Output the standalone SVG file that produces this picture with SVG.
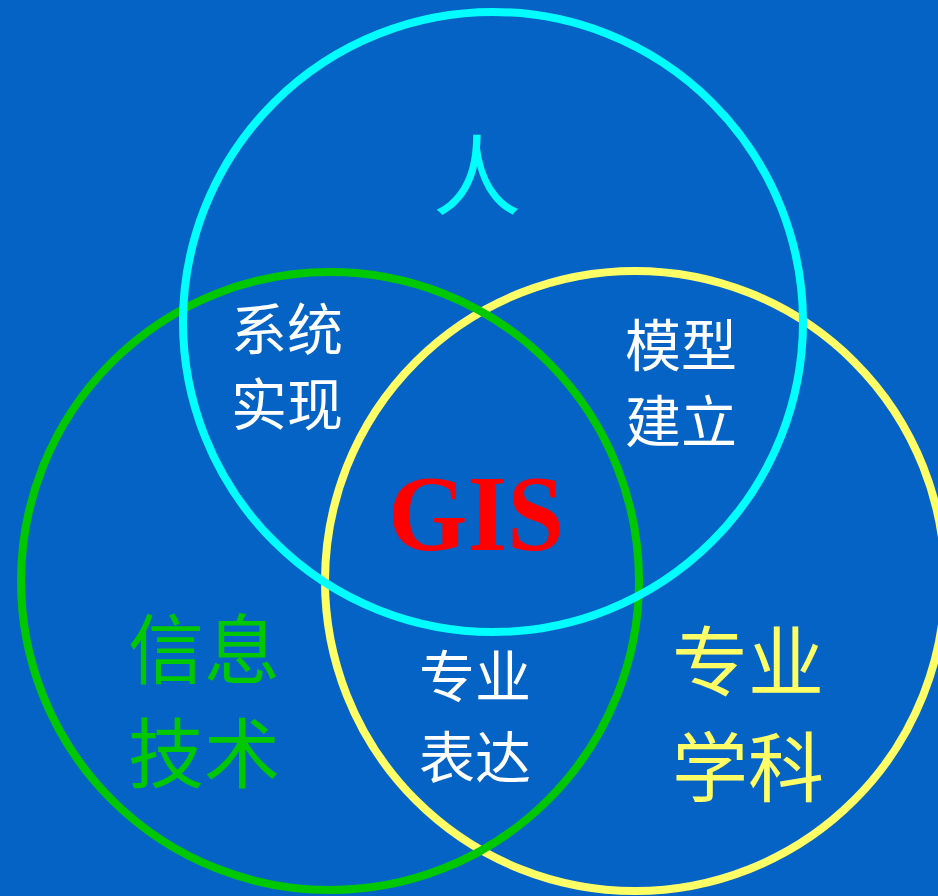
<svg xmlns="http://www.w3.org/2000/svg" width="938" height="896" viewBox="0 0 938 896">
<style>
.ring{fill:none;stroke-width:8}
.cjk{font-family:"Noto Sans CJK SC","Noto Sans CJK JP",sans-serif;text-anchor:middle}
.lbl{fill:#FFFFFF;font-size:56px}
.big{font-size:76px}
</style>
<rect width="938" height="896" fill="#0563C6"/>
<g id="circles">
<circle id="c-subject" class="ring" cx="635" cy="581" r="310" stroke="#FFFF66"/>
<circle id="c-tech" class="ring" cx="330" cy="581" r="309" stroke="#00C800"/>
<circle id="c-person" class="ring" cx="493" cy="322" r="310" stroke="#00FFFF"/>
</g>
<g id="person"><text class="cjk" x="477" y="208" font-size="88" fill="#00FFFF">人</text></g>
<g id="tech"><text class="cjk big" x="204" y="678" fill="#00C800">信息</text><text class="cjk big" x="204" y="782" fill="#00C800">技术</text></g>
<g id="subject"><text class="cjk big" x="748" y="690" fill="#FFFF66">专业</text><text class="cjk big" x="748" y="796" fill="#FFFF66">学科</text></g>
<g id="impl"><text class="cjk lbl" x="287" y="350">系统</text><text class="cjk lbl" x="287" y="425">实现</text></g>
<g id="model"><text class="cjk lbl" x="681" y="366">模型</text><text class="cjk lbl" x="681" y="442">建立</text></g>
<g id="express"><text class="cjk lbl" x="475" y="697">专业</text><text class="cjk lbl" x="475" y="778">表达</text></g>
<g id="gis"><text x="388" y="550" font-family="'Liberation Serif',serif" font-weight="bold" font-size="108" fill="#FF0000" textLength="176" lengthAdjust="spacingAndGlyphs">GIS</text></g>
</svg>
